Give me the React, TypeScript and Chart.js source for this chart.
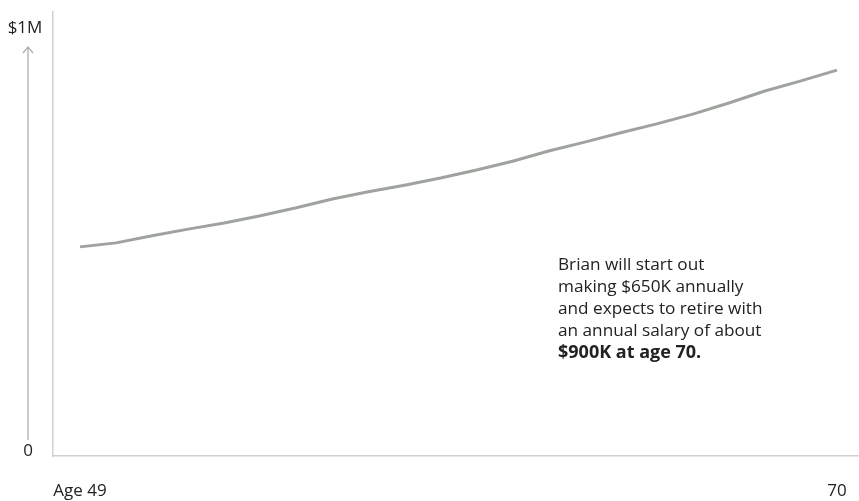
import React, { useEffect, useRef } from "react";
import { Chart, registerables } from "chart.js";

Chart.register(...registerables);

const ages = [49, 50, 51, 52, 53, 54, 55, 56, 57, 58, 59, 60, 61, 62, 63, 64, 65, 66, 67, 68, 69, 70];
const salary = [471, 480, 496, 511, 525, 541, 559, 579, 595, 610, 626, 644, 664, 687, 707, 728, 748, 770, 795, 822, 845, 869];
const yLabels = ["$1M", "0"];
const noteLines = [
  "Brian will start out",
  "making $650K annually",
  "and expects to retire with",
  "an annual salary of about",
];
const noteBold = "$900K at age 70.";

const FONT = "'Open Sans', sans-serif";

const overlay = {
  id: "overlay",
  afterDraw(chart: any) {
    const { ctx } = chart;
    ctx.save();
    // arrow
    ctx.strokeStyle = "#b0b0b0";
    ctx.lineWidth = 1.3;
    ctx.beginPath();
    ctx.moveTo(28, 440);
    ctx.lineTo(28, 47);
    ctx.moveTo(23, 53);
    ctx.lineTo(28, 47);
    ctx.lineTo(33, 53);
    ctx.stroke();
    // y labels
    ctx.fillStyle = "#222";
    ctx.font = `17px ${FONT}`;
    ctx.textAlign = "center";
    ctx.textBaseline = "middle";
    ctx.fillText(yLabels[0], 25, 28);
    ctx.fillText(yLabels[1], 28, 451);
    // note
    ctx.textAlign = "left";
    ctx.textBaseline = "middle";
    const x0 = 558;
    let y = 265;
    ctx.font = `17.2px ${FONT}`;
    for (const l of noteLines) {
      ctx.fillText(l, x0, y);
      y += 22;
    }
    ctx.font = `bold 18px ${FONT}`;
    ctx.fillText(noteBold, x0, y);
    ctx.restore();
  },
};

export default function App() {
  const ref = useRef<HTMLCanvasElement>(null);
  useEffect(() => {
    const chart = new Chart(ref.current!, {
      type: "line",
      data: {
        datasets: [
          {
            data: ages.map((a, i) => ({ x: a, y: salary[i] * 1000 })),
            borderColor: "#9ea39e",
            borderWidth: 3,
            pointRadius: 0,
            tension: 0,
            fill: false,
          },
        ],
      },
      options: {
        animation: false,
        responsive: false,
        maintainAspectRatio: false,
        layout: { padding: { left: 53, top: 12, right: 0, bottom: 0 } },
        plugins: { legend: { display: false }, tooltip: { enabled: false } },
        scales: {
          x: {
            type: "linear",
            min: 48.25,
            max: 70.61,
            afterBuildTicks: (axis: any) => {
              axis.ticks = [{ value: ages[0] }, { value: ages[ages.length - 1] }];
            },
            afterFit: (axis: any) => {
              axis.height = 45;
              axis.paddingLeft = 0;
              axis.paddingRight = 0;
            },
            ticks: {
              autoSkip: false,
              maxRotation: 0,
              color: "#222",
              font: { family: FONT, size: 17 },
              padding: 25,
              callback: (v: any) => (v === ages[0] ? `Age ${v}` : `${v}`),
            },
            grid: { display: false, drawTicks: false },
            border: { display: true, color: "#d0d0d0", width: 1.5 },
          },
          y: {
            min: 0,
            max: 1000000,
            display: true,
            ticks: { display: false },
            grid: { display: false, drawTicks: false },
            border: { display: true, color: "#d0d0d0", width: 1.5 },
          },
        },
      },
      plugins: [overlay],
    });
    return () => chart.destroy();
  }, []);
  return (
    <div style={{ position: "absolute", left: 0, top: 0, width: 859, height: 501, background: "#fff" }}>
      <canvas ref={ref} width={859} height={501} style={{ width: 859, height: 501 }} />
    </div>
  );
}
